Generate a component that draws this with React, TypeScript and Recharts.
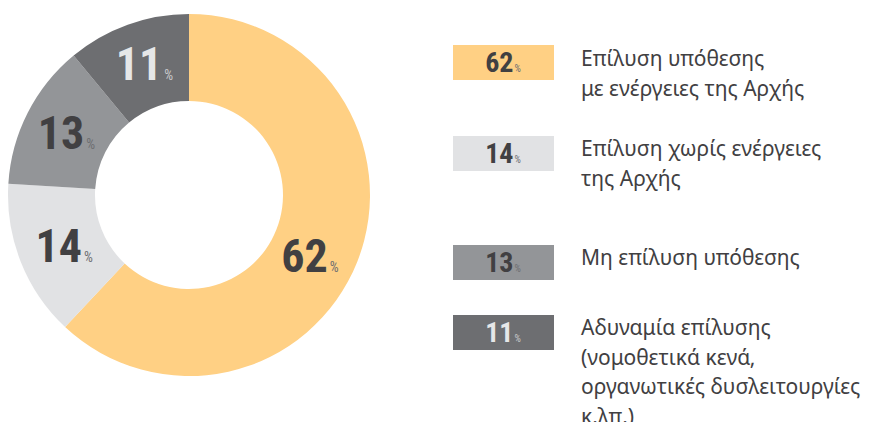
import React from "react";
import { PieChart, Pie, Cell, Legend } from "recharts";

const categories = [
  "Επίλυση υπόθεσης με ενέργειες της Αρχής",
  "Επίλυση χωρίς ενέργειες της Αρχής",
  "Μη επίλυση υπόθεσης",
  "Αδυναμία επίλυσης (νομοθετικά κενά, οργανωτικές δυσλειτουργίες κ.λπ.)",
];
const legendLines = [
  ["Επίλυση υπόθεσης", "με ενέργειες της Αρχής"],
  ["Επίλυση χωρίς ενέργειες", "της Αρχής"],
  ["Μη επίλυση υπόθεσης"],
  ["Αδυναμία επίλυσης", "(νομοθετικά κενά,", "οργανωτικές δυσλειτουργίες", "κ.λπ.)"],
];
const values = [62, 14, 13, 11];
const colors = ["#FFD084", "#E1E2E4", "#939598", "#6D6E71"];
const digitColors = ["#414042", "#414042", "#414042", "#E6E7E8"];
const pctColors = ["#6D6E71", "#6D6E71", "#6D6E71", "#C9CACC"];

const data = categories.map((name, i) => ({ name, value: values[i] }));

// small manual nudges of the in-slice labels (layout only)
const labelNudge = [
  [-7, 10],
  [3, 0],
  [0, 0],
  [2, -2],
];

const NUM_FONT = "'Liberation Sans Narrow', 'Roboto Condensed', Roboto, sans-serif";
const TEXT_FONT = "'Noto Sans', 'Open Sans', sans-serif";

const RAD = Math.PI / 180;

const renderLabel = (props: any) => {
  const { cx, cy, midAngle, innerRadius, outerRadius, index } = props;
  const r = (innerRadius + outerRadius) / 2;
  const x = cx + r * Math.cos(-midAngle * RAD) + labelNudge[index][0];
  const y = cy + r * Math.sin(-midAngle * RAD) + labelNudge[index][1];
  return (
    <text x={x} y={y + 16} textAnchor="middle" fontFamily={NUM_FONT}>
      <tspan fontSize={46} fontWeight={700} fill={digitColors[index]}>
        {values[index]}
      </tspan>
      <tspan fontSize={14} fill={pctColors[index]} dx={2}>
        %
      </tspan>
    </text>
  );
};

const boxTops = [45, 136, 245, 315];
const textBaselines = [66, 156, 265, 335];

const LegendContent = () => (
  <svg width={871} height={422} style={{ position: "absolute", left: 0, top: 0 }}>
    {values.map((v, i) => (
      <g key={i}>
        <rect x={453} y={boxTops[i]} width={101} height={35} fill={colors[i]} />
        <text x={503} y={boxTops[i] + 27} textAnchor="middle" fontFamily={NUM_FONT}>
          <tspan fontSize={28} fontWeight={700} fill={digitColors[i]}>
            {v}
          </tspan>
          <tspan fontSize={10} fill={pctColors[i]} dx={1}>
            %
          </tspan>
        </text>
        {legendLines[i].map((line, j) => (
          <text
            key={j}
            x={581}
            y={textBaselines[i] + j * 29.5}
            fontFamily={TEXT_FONT}
            fontSize={21}
            fill="#414042"
          >
            {line}
          </text>
        ))}
      </g>
    ))}
  </svg>
);

export default function App() {
  return (
    <div style={{ position: "absolute", left: 0, top: 0, width: 871, height: 422, background: "#fff" }}>
      <PieChart width={871} height={422} margin={{ top: 0, right: 0, bottom: 0, left: 0 }}>
        <Pie
          data={data}
          dataKey="value"
          nameKey="name"
          cx={189}
          cy={195}
          innerRadius={94}
          outerRadius={181}
          startAngle={90}
          endAngle={-270}
          stroke="none"
          isAnimationActive={false}
          label={renderLabel}
          labelLine={false}
        >
          {data.map((d, i) => (
            <Cell key={d.name} fill={colors[i]} />
          ))}
        </Pie>
        <Legend
          content={<LegendContent />}
          wrapperStyle={{ position: "absolute", left: 0, top: 0, width: 871, height: 422 }}
        />
      </PieChart>
    </div>
  );
}
